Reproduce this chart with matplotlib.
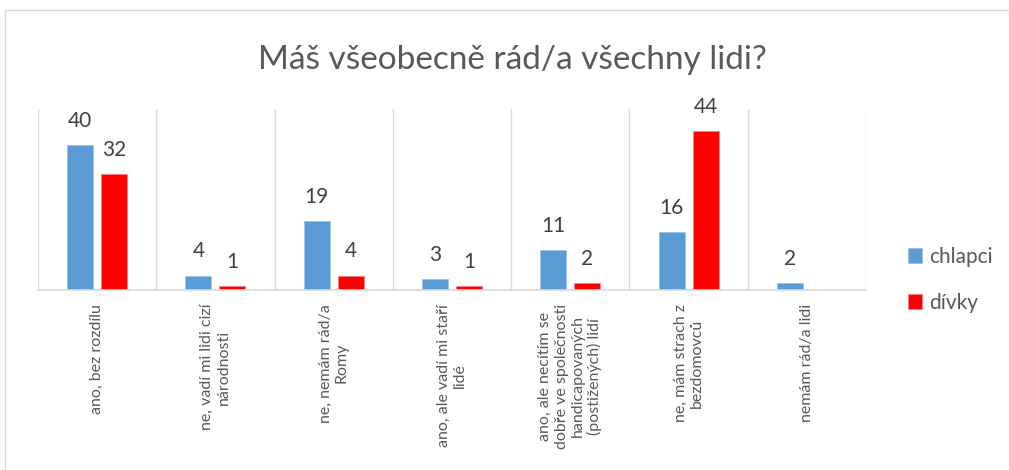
import matplotlib
matplotlib.use("Agg")
import matplotlib.pyplot as plt
import numpy as np
from matplotlib.patches import Rectangle

categories = [
    "ano, bez rozdílu",
    "ne, vadí mi lidi cizí\nnárodnosti",
    "ne, nemám rád/a\nRomy",
    "ano, ale vadí mi staří\nlidé",
    "ano, ale necítím se\ndobře ve společnosti\nhandicapovaných\n(postižených) lidí",
    "ne, mám strach z\nbezdomovců",
    "nemám rád/a lidi",
]
chlapci = [40, 4, 19, 3, 11, 16, 2]
divky = [32, 1, 4, 1, 2, 44, 0]
series_names = ["chlapci", "dívky"]
title = "Máš všeobecně rád/a všechny lidi?"

plt.rcParams['font.family'] = ['Lato', 'DejaVu Sans']

fig = plt.figure(figsize=(10.09, 4.70), dpi=100)
fig.patches.append(Rectangle((5/1009, -0.1), 1.2, 1 - 10/470 + 0.1, transform=fig.transFigure,
                             fill=False, edgecolor='#D9D9D9', linewidth=1))
ax = fig.add_axes([38/1009, 1 - 290/470, (866-38)/1009, (290-109)/470])

x = np.arange(len(categories))
w = 0.22
off = 0.144
blue = '#5B9BD5'
red = '#FF0000'
b1 = ax.bar(x - off, chlapci, w, color=blue, edgecolor='#9DC3E6', linewidth=0.6, label=series_names[0])
b2 = ax.bar(x + off, divky, w, color=red, edgecolor='#FF8080', linewidth=0.6, label=series_names[1])

for bars, vals in ((b1, chlapci), (b2, divky)):
    for rect, v in zip(bars, vals):
        if v:
            ax.annotate(str(v), (rect.get_x() + rect.get_width()/2, v), xytext=(0, 13),
                        textcoords='offset points', ha='center', va='baseline',
                        fontsize=15, color='#404040')

ax.set_xlim(-0.5, len(categories) - 0.5)
ax.set_ylim(0, 50)
for b in np.arange(-0.5, len(categories), 1.0):
    ax.axvline(b, color='#D9D9D9', linewidth=1, zorder=0)
for s in ['top', 'right', 'left']:
    ax.spines[s].set_visible(False)
ax.spines['bottom'].set_color('#D9D9D9')
ax.spines['bottom'].set_linewidth(1.2)
ax.set_yticks([])
ax.set_xticks(x)
ax.set_xticklabels(categories, rotation=90, ha='center', va='top', multialignment='center',
                   fontsize=11.5, color='#595959', linespacing=1.2)
ax.tick_params(axis='x', length=0, pad=10)

fig.text(512/1009, 1 - 60/470, title, ha='center', va='center', fontsize=24,
         color='#595959')

leg = fig.legend(handles=[b1, b2], labels=series_names, loc='center left',
                 bbox_to_anchor=(889/1009, 1 - 280/470), frameon=False, fontsize=15,
                 labelcolor='#595959', handlelength=0.7, handleheight=0.7,
                 handletextpad=0.35, labelspacing=1.25)

fig.savefig("out.png", dpi=100)
